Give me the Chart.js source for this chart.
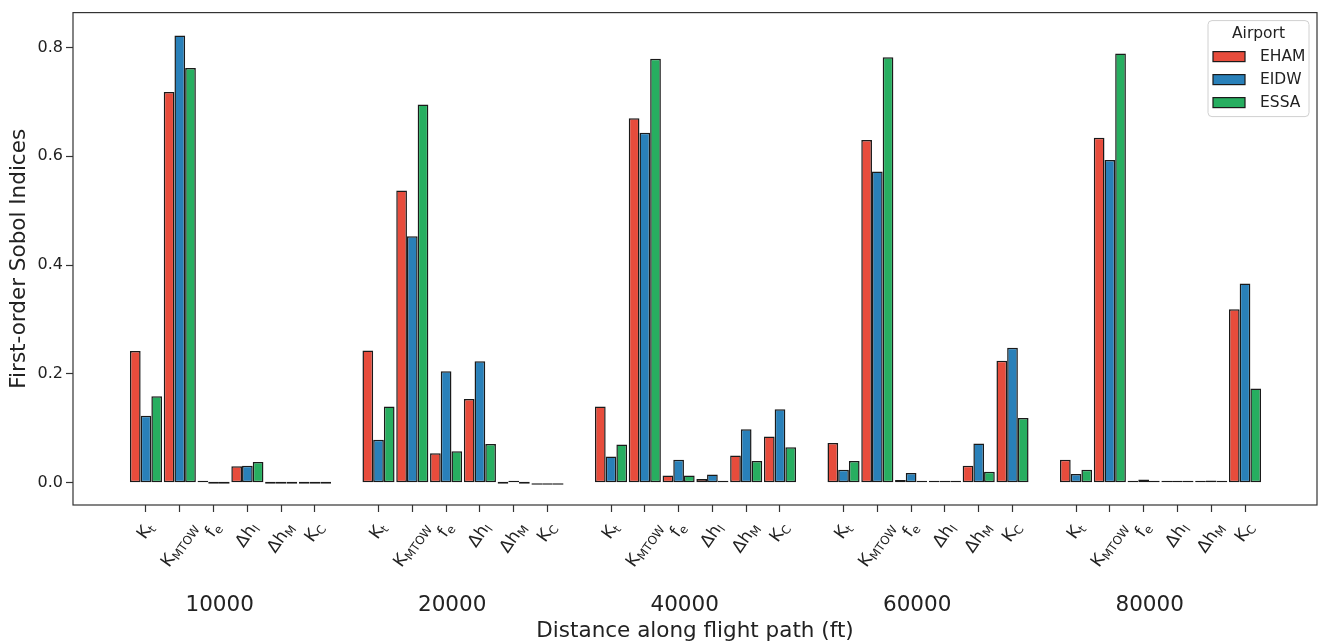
<!DOCTYPE html>
<html>
<head>
<meta charset="utf-8">
<script src="https://cdn.jsdelivr.net/npm/chart.js@4.4.1/dist/chart.umd.min.js"></script>
<style>
html,body{margin:0;padding:0;background:#fff;}
#wrap{width:1319px;height:644px;position:relative;}
</style>
</head>
<body>
<div id="wrap"><canvas id="c" width="1319" height="644"></canvas></div>
<script>
// ---------------- DATA ----------------
const distances = ['10000', '20000', '40000', '60000', '80000'];
const paramBase = ['K', 'K', 'f', 'Δh', 'Δh', 'K'];
const paramSub  = ['t', 'MTOW', 'e', 'l', 'M', 'C'];
const airports  = ['EHAM', 'EIDW', 'ESSA'];
const yTicks    = [0.0, 0.2, 0.4, 0.6, 0.8];

// values ordered: distance group, then parameter (Kt, KMTOW, fe, Δhl, ΔhM, KC)
const EHAM = [
  0.242, 0.718, 0.002, 0.030, 0.000, 0.000,
  0.243, 0.537, 0.054, 0.154, 0.000, -0.002,
  0.140, 0.670, 0.013, 0.007, 0.050, 0.085,
  0.073, 0.630, 0.005, 0.003, 0.031, 0.224,
  0.042, 0.634, 0.002, 0.002, 0.001, 0.319
];
const EIDW = [
  0.123, 0.822, 0.000, 0.031, 0.000, 0.000,
  0.079, 0.453, 0.205, 0.223, 0.002, -0.003,
  0.048, 0.643, 0.042, 0.015, 0.098, 0.135,
  0.024, 0.572, 0.018, 0.003, 0.072, 0.248,
  0.016, 0.593, 0.006, 0.003, 0.004, 0.366
];
const ESSA = [
  0.159, 0.762, 0.000, 0.038, 0.000, 0.000,
  0.140, 0.695, 0.058, 0.071, 0.000, -0.002,
  0.070, 0.779, 0.013, 0.001, 0.040, 0.065,
  0.040, 0.782, 0.002, 0.001, 0.020, 0.119,
  0.024, 0.789, 0.002, 0.001, 0.002, 0.173
];

// ---------------- LAYOUT / STYLE ----------------
const FAMILY = '"DejaVu Sans", "Liberation Sans", sans-serif';
const STRIDE = 6.88;           // distance between groups (in parameter units)
const GROUP_LABEL_OFFSET = 2.18;
const colors = ['#e74c3c', '#2980b9', '#27ae60'];
const series = { EHAM, EIDW, ESSA };

const xPos = [];
distances.forEach((d, g) => paramSub.forEach((s, i) => xPos.push(g * STRIDE + i)));

const datasets = airports.map((a, k) => ({
  label: a,
  data: series[a].map((v, j) => ({ x: xPos[j], y: v })),
  backgroundColor: colors[k],
  borderColor: '#1a1a1a',
  borderWidth: 1.5,
  borderSkipped: false,
  minBarLength: 2,
  categoryPercentage: 0.95,
  barPercentage: 1.0
}));

function drawParamLabel(ctx, x, top, base, sub) {
  const fs = 17, ss = fs * 0.7;
  ctx.font = fs + 'px ' + FAMILY;
  const wb = ctx.measureText(base).width;
  ctx.font = ss + 'px ' + FAMILY;
  const ws = ctx.measureText(sub).width;
  const W = wb + ws;
  const asc = 0.73 * fs, subDrop = 0.2 * fs, subDesc = 0.05 * ss;
  const H = asc + subDrop + subDesc;
  const a = 55 * Math.PI / 180;
  const bh = W * Math.sin(a) + H * Math.cos(a);
  ctx.save();
  ctx.translate(x, top + bh / 2);
  ctx.rotate(-a);
  ctx.fillStyle = '#222';
  ctx.textAlign = 'left';
  ctx.textBaseline = 'alphabetic';
  const x0 = -W / 2, yb = -H / 2 + asc;
  ctx.font = fs + 'px ' + FAMILY;
  ctx.fillText(base, x0, yb);
  ctx.font = ss + 'px ' + FAMILY;
  ctx.fillText(sub, x0 + wb, yb + subDrop);
  ctx.restore();
}

const decor = {
  id: 'decor',
  afterDraw(chart) {
    const ctx = chart.ctx;
    const ca = chart.chartArea;
    const xs = chart.scales.x;
    ctx.save();
    // frame
    ctx.strokeStyle = '#333';
    ctx.lineWidth = 1.2;
    ctx.strokeRect(ca.left, ca.top, ca.right - ca.left, ca.bottom - ca.top);

    // parameter tick labels
    xPos.forEach((v, j) => {
      const i = j % paramSub.length;
      drawParamLabel(ctx, xs.getPixelForValue(v), ca.bottom + 15, paramBase[i], paramSub[i]);
    });

    // distance group labels
    ctx.fillStyle = '#222';
    ctx.font = '21.5px ' + FAMILY;
    ctx.textAlign = 'center';
    ctx.textBaseline = 'middle';
    distances.forEach((d, g) => {
      const px = xs.getPixelForValue(xPos[g * paramSub.length] + GROUP_LABEL_OFFSET);
      ctx.fillText(d, px, ca.bottom + 100);
    });

    // legend
    const lw = 101, lh = 96;
    const lx = ca.right - 8 - lw, ly = ca.top + 8;
    ctx.beginPath();
    ctx.roundRect(lx, ly, lw, lh, 4);
    ctx.fillStyle = 'rgba(255,255,255,0.85)';
    ctx.fill();
    ctx.strokeStyle = '#d0d0d0';
    ctx.lineWidth = 1;
    ctx.stroke();
    ctx.fillStyle = '#222';
    ctx.font = '15.5px ' + FAMILY;
    ctx.textAlign = 'center';
    ctx.textBaseline = 'middle';
    ctx.fillText('Airport', lx + lw / 2, ly + 13);
    chart.data.datasets.forEach((ds, k) => {
      const cy = ly + 36 + k * 23;
      ctx.fillStyle = ds.backgroundColor;
      ctx.fillRect(lx + 5, cy - 5, 32, 10);
      ctx.strokeStyle = '#1a1a1a';
      ctx.lineWidth = 1.2;
      ctx.strokeRect(lx + 5, cy - 5, 32, 10);
      ctx.fillStyle = '#222';
      ctx.textAlign = 'left';
      ctx.fillText(ds.label, lx + 52, cy);
    });
    ctx.restore();
  }
};

new Chart(document.getElementById('c'), {
  type: 'bar',
  data: { datasets },
  options: {
    responsive: false,
    devicePixelRatio: 1,
    animation: false,
    layout: { padding: { left: 0, top: 7, right: 2, bottom: 0 } },
    plugins: { legend: { display: false }, tooltip: { enabled: false } },
    scales: {
      x: {
        type: 'linear',
        min: -2.16,
        max: 34.65,
        offset: false,
        afterBuildTicks: s => { s.ticks = xPos.map(v => ({ value: v })); },
        afterFit: s => { s.height = 139; },
        ticks: { display: false },
        grid: { offset: false, drawOnChartArea: false, drawTicks: true, tickLength: 7, tickColor: '#333', tickWidth: 1.2 },
        border: { display: false },
        title: {
          display: true, text: 'Distance along flight path (ft)',
          font: { family: FAMILY, size: 21.5 }, color: '#222',
          padding: { top: 0, bottom: 0 }
        }
      },
      y: {
        min: -0.041,
        max: 0.864,
        afterBuildTicks: s => { s.ticks = yTicks.map(v => ({ value: v })); },
        afterFit: s => { s.width = 73; },
        ticks: { callback: v => Number(v).toFixed(1), font: { family: FAMILY, size: 16 }, color: '#222', padding: 3 },
        grid: { drawOnChartArea: false, drawTicks: true, tickLength: 7, tickColor: '#333', tickWidth: 1.2 },
        border: { display: false },
        title: {
          display: true, text: 'First-order Sobol Indices',
          font: { family: FAMILY, size: 21.5 }, color: '#222',
          padding: { top: 7, bottom: 0 }
        }
      }
    }
  },
  plugins: [decor]
});
</script>
</body>
</html>
